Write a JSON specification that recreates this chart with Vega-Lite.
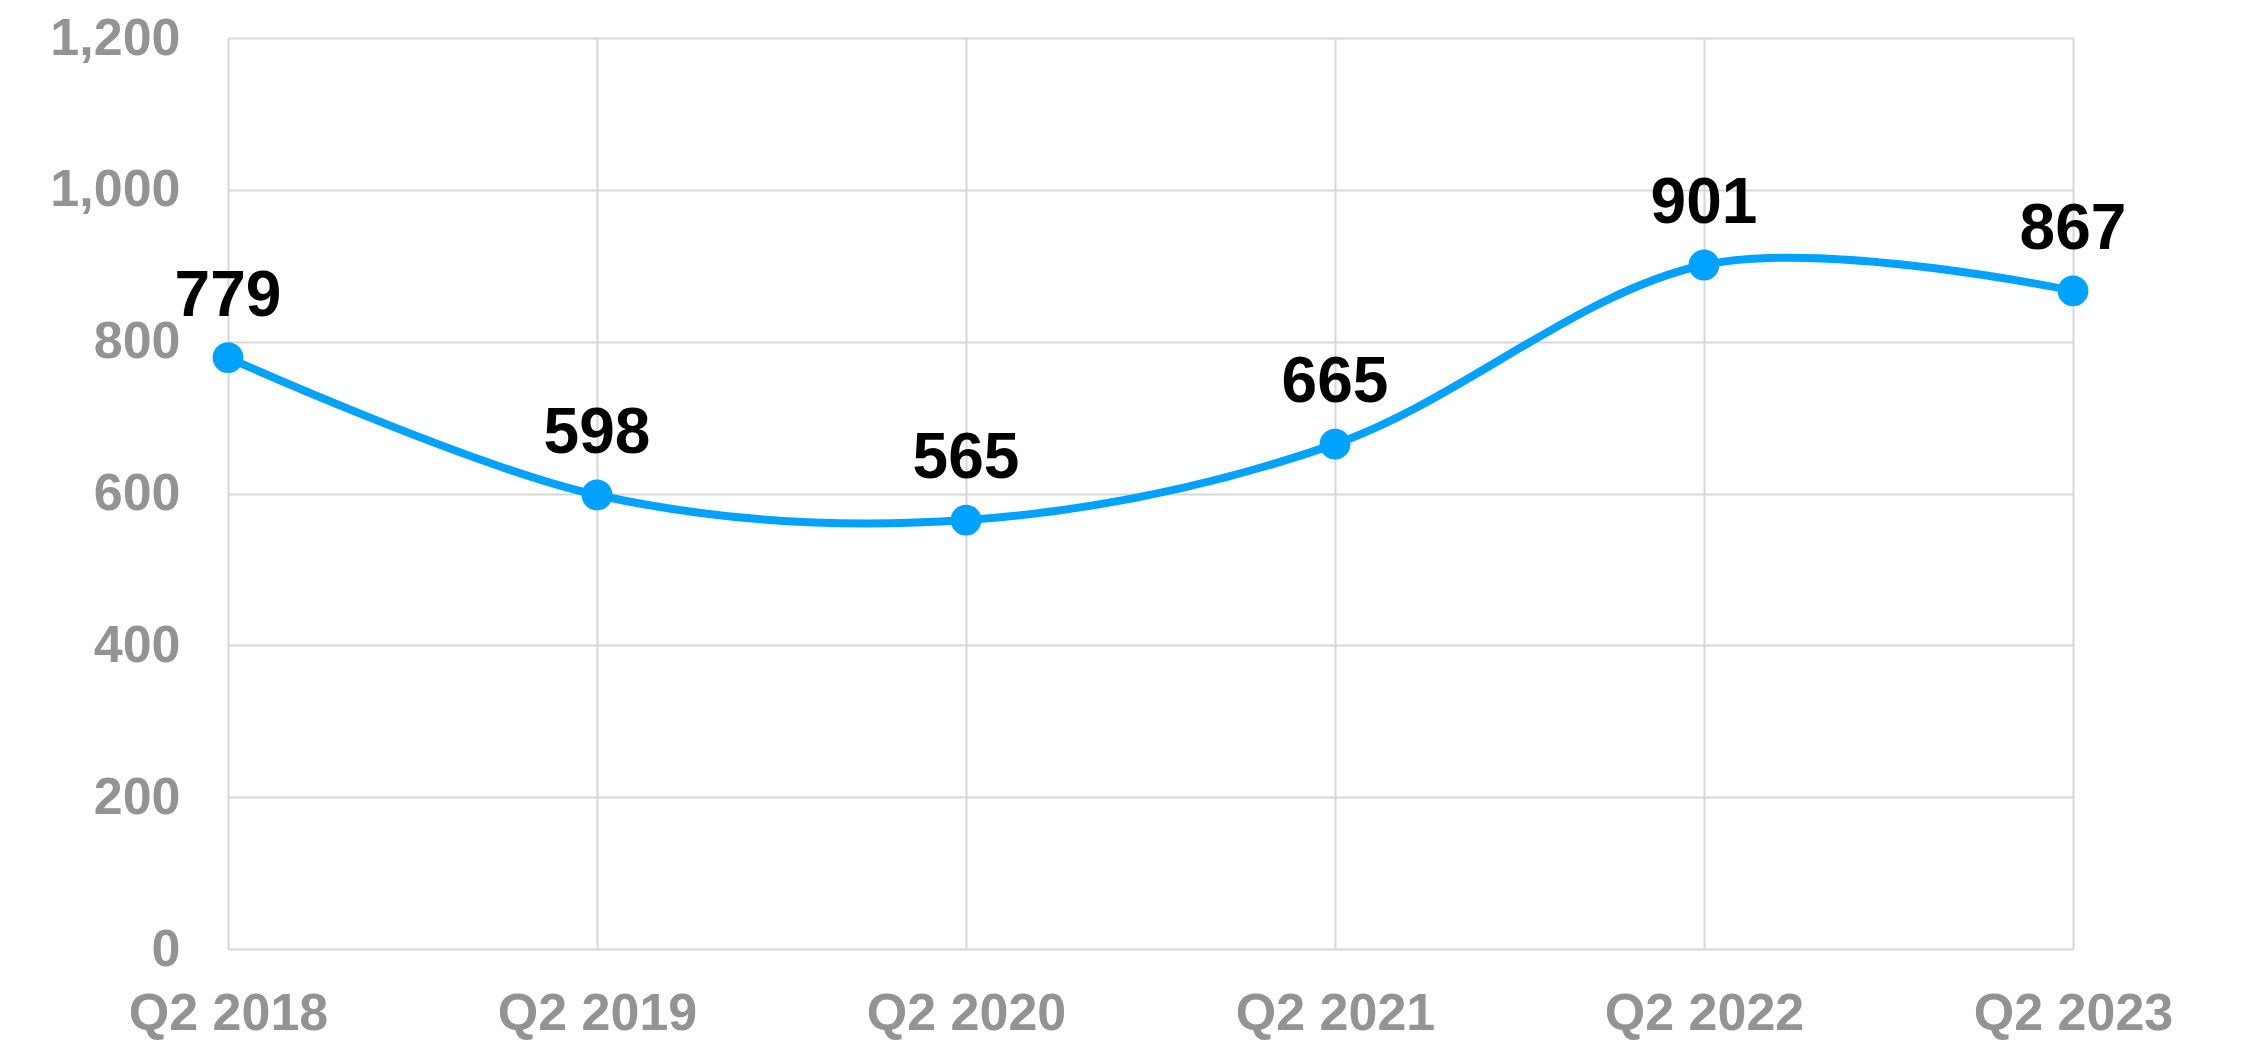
{
  "$schema": "https://vega.github.io/schema/vega-lite/v6.json",
  "autosize": "none",
  "width": 1845,
  "height": 911,
  "padding": {"left": 228, "top": 38, "right": 171, "bottom": 92},
  "background": "white",
  "config": {
    "view": {"stroke": null},
    "font": "Liberation Sans"
  },
  "data": {
    "values": [
      {"quarter": "Q2 2018", "value": 779},
      {"quarter": "Q2 2019", "value": 598},
      {"quarter": "Q2 2020", "value": 565},
      {"quarter": "Q2 2021", "value": 665},
      {"quarter": "Q2 2022", "value": 901},
      {"quarter": "Q2 2023", "value": 867}
    ]
  },
  "encoding": {
    "x": {
      "field": "quarter",
      "type": "ordinal",
      "sort": null,
      "scale": {"type": "point", "padding": 0},
      "axis": {
        "title": null,
        "labelAngle": 0,
        "labelLimit": 0,
        "labelFont": "Liberation Sans",
        "labelFontWeight": "bold",
        "labelFontSize": 52,
        "labelColor": "#939393",
        "labelPadding": 39,
        "ticks": false,
        "domain": false,
        "grid": true,
        "gridColor": "#d6d6d6",
        "gridWidth": 2
      }
    },
    "y": {
      "field": "value",
      "type": "quantitative",
      "scale": {"domain": [0, 1200], "nice": false},
      "axis": {
        "title": null,
        "values": [0, 200, 400, 600, 800, 1000, 1200],
        "format": ",.0f",
        "labelLimit": 0,
        "labelFont": "Liberation Sans",
        "labelFontWeight": "bold",
        "labelFontSize": 52,
        "labelColor": "#939393",
        "labelPadding": 48,
        "ticks": false,
        "domain": false,
        "grid": true,
        "gridColor": "#d6d6d6",
        "gridWidth": 2
      }
    }
  },
  "layer": [
    {
      "mark": {"type": "line", "color": "#00A2FF", "strokeWidth": 8, "interpolate": "cardinal"}
    },
    {
      "mark": {"type": "point", "filled": true, "color": "#00A2FF", "size": 950, "opacity": 1}
    },
    {
      "mark": {"type": "text", "dy": -42, "baseline": "alphabetic", "align": "center", "fontSize": 64, "fontWeight": "bold", "font": "Liberation Sans", "color": "#000000"},
      "encoding": {"text": {"field": "value", "type": "quantitative"}}
    }
  ]
}
